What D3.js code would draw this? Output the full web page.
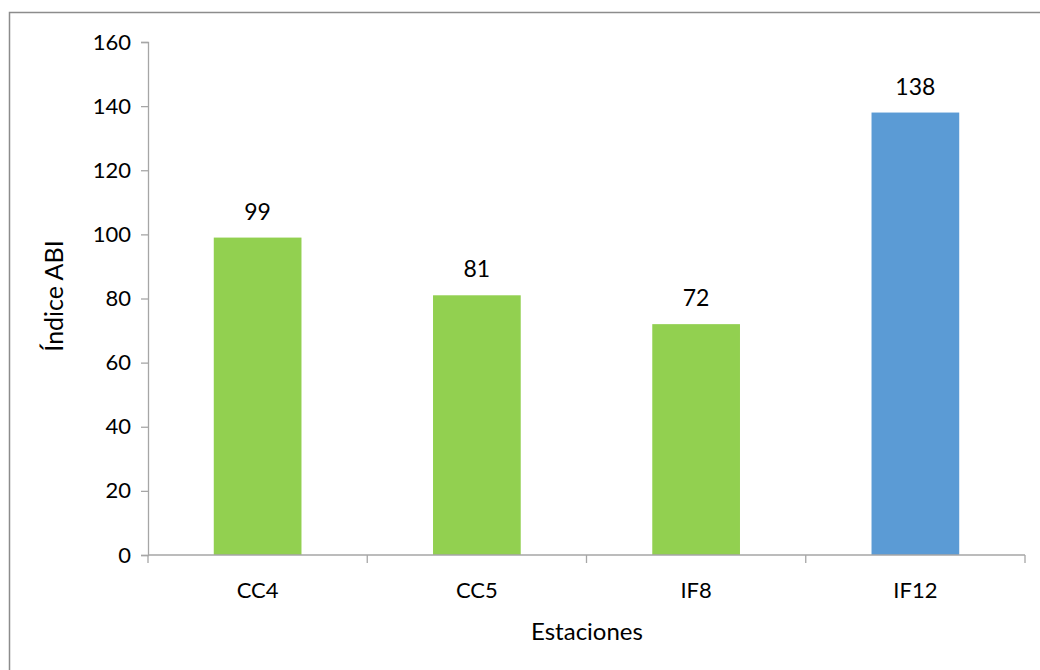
<!DOCTYPE html>
<html>
<head>
<meta charset="utf-8">
<script src="https://cdn.jsdelivr.net/npm/d3@7"></script>
<style>
  html, body { margin: 0; padding: 0; background: #fff; }
  svg { display: block; }
  text { font-family: Lato, "Open Sans", sans-serif; fill: #000; }
</style>
</head>
<body>
<svg id="chart" width="1040" height="670"></svg>
<script>
// ABI index per sampling station
const stations = ["CC4", "CC5", "IF8", "IF12"];
const abiValues = [99, 81, 72, 138];
const barColors = ["#92D050", "#92D050", "#92D050", "#5B9BD5"];
const yTicks = [0, 20, 40, 60, 80, 100, 120, 140, 160];

const svg = d3.select("#chart");
const plot = { left: 148, right: 1025, top: 42, bottom: 555 };
const axisColor = "#A6A6A6";

// outer chart frame
svg.append("rect")
  .attr("x", 9.5).attr("y", 12.5)
  .attr("width", 1040).attr("height", 700)
  .attr("fill", "none").attr("stroke", "#8C8C8C").attr("stroke-width", 1.5);

const x = d3.scaleBand().domain(stations)
  .range([plot.left, plot.right]).paddingInner(0.6).paddingOuter(0.3);
const y = d3.scaleLinear().domain([0, 160]).range([plot.bottom, plot.top]);

// y axis
const yAxis = svg.append("g")
  .attr("transform", `translate(${plot.left},0)`)
  .call(d3.axisLeft(y).tickValues(yTicks).tickSize(7).tickPadding(10));
yAxis.select(".domain").attr("stroke", axisColor).attr("stroke-width", 1.3);
yAxis.selectAll(".tick line").attr("stroke", axisColor).attr("stroke-width", 1.3);
yAxis.selectAll(".tick text").style("font-size", "22px").attr("fill", "#000");

// bars
svg.append("g").selectAll("rect")
  .data(stations)
  .join("rect")
  .attr("x", d => x(d))
  .attr("width", x.bandwidth())
  .attr("y", (d, i) => y(abiValues[i]))
  .attr("height", (d, i) => y(0) - y(abiValues[i]))
  .attr("fill", (d, i) => barColors[i]);

// x axis with tick marks at category boundaries
const step = x.step();
const boundaries = d3.range(stations.length + 1).map(i => plot.left + i * step);
svg.append("line")
  .attr("x1", plot.left).attr("x2", plot.right)
  .attr("y1", plot.bottom).attr("y2", plot.bottom)
  .attr("stroke", axisColor).attr("stroke-width", 1.3);
svg.append("g").selectAll("line")
  .data(boundaries)
  .join("line")
  .attr("x1", d => d).attr("x2", d => d)
  .attr("y1", plot.bottom).attr("y2", plot.bottom + 8)
  .attr("stroke", axisColor).attr("stroke-width", 1.3);
svg.append("g").selectAll("text")
  .data(stations)
  .join("text")
  .attr("x", d => x(d) + x.bandwidth() / 2)
  .attr("y", 598)
  .attr("text-anchor", "middle")
  .style("font-size", "22px")
  .text(d => d);

// value labels
svg.append("g").selectAll("text")
  .data(stations)
  .join("text")
  .attr("x", d => x(d) + x.bandwidth() / 2)
  .attr("y", (d, i) => y(abiValues[i]) - 18)
  .attr("text-anchor", "middle")
  .style("font-size", "23px")
  .text((d, i) => abiValues[i]);

// axis titles
svg.append("text")
  .attr("x", 587).attr("y", 640)
  .attr("text-anchor", "middle")
  .style("font-size", "24px")
  .text("Estaciones");
svg.append("text")
  .attr("transform", `translate(63,296) rotate(-90)`)
  .attr("text-anchor", "middle")
  .style("font-size", "25px")
  .text("Índice ABI");
</script>
</body>
</html>
